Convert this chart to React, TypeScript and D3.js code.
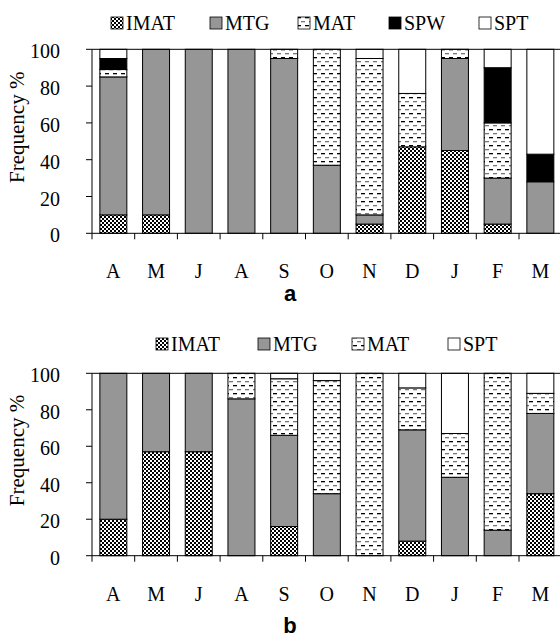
import React from "react";
import * as d3 from "d3";

// ---------- data ----------
const categories = ["A", "M", "J", "A", "S", "O", "N", "D", "J", "F", "M"];
const yTicks = [0, 20, 40, 60, 80, 100];

// panel a
const imatA = [10, 10, 0, 0, 0, 0, 5, 47, 45, 5, 0];
const mtgA = [75, 90, 100, 100, 95, 37, 5, 0, 50, 25, 28];
const matA = [4, 0, 0, 0, 5, 63, 85, 29, 5, 30, 0];
const spwA = [6, 0, 0, 0, 0, 0, 0, 0, 0, 30, 15];
const sptA = [5, 0, 0, 0, 0, 0, 5, 24, 0, 10, 57];

// panel b
const imatB = [20, 57, 57, 0, 16, 0, 0, 8, 0, 0, 34];
const mtgB = [80, 43, 43, 86, 50, 34, 0, 61, 43, 14, 44];
const matB = [0, 0, 0, 14, 31, 62, 100, 23, 24, 86, 11];
const sptB = [0, 0, 0, 0, 3, 4, 0, 8, 33, 0, 11];

const keysA = ["IMAT", "MTG", "MAT", "SPW", "SPT"];
const keysB = ["IMAT", "MTG", "MAT", "SPT"];

// ---------- styles ----------
const FILL: Record<string, string> = {
  IMAT: "url(#pImat)",
  MTG: "#969696",
  MAT: "url(#pMat)",
  SPW: "#000000",
  SPT: "#ffffff",
};
const SERIF = "'Liberation Serif', 'Times New Roman', serif";
const SANS = "'Liberation Sans', Arial, sans-serif";

type PanelProps = {
  keys: string[];
  series: Record<string, number[]>;
  top: number;
  bottom: number;
  legendX: number[];
  legendY: number;
  caption: string;
  captionY: number;
};

const X0 = 92;
const X1 = 561.7;

function Panel({ keys, series, top, bottom, legendX, legendY, caption, captionY }: PanelProps) {
  const idx = categories.map((_, i) => String(i));
  const x = d3.scaleBand<string>().domain(idx).range([X0, X1]).paddingInner(0.368).paddingOuter(0.184);
  const y = d3.scaleLinear().domain([0, 100]).range([bottom, top]);
  const rows = categories.map((_, i) => {
    const r: Record<string, number> = {};
    keys.forEach((k) => (r[k] = series[k][i]));
    return r;
  });
  const stacked = d3.stack<Record<string, number>>().keys(keys)(rows);
  const step = x.step();
  const boundaries = d3.range(categories.length + 1).map((i) => X0 + i * step);

  return (
    <g>
      {/* legend */}
      {keys.map((k, i) => (
        <g key={k}>
          <rect x={legendX[i]} y={legendY - 13} width={12} height={12} fill={FILL[k]} stroke="#000" strokeWidth={0.8} />
          <text x={legendX[i] + 15} y={legendY} fontFamily={SERIF} fontSize={20} fill="#000">
            {k}
          </text>
        </g>
      ))}
      {/* bars */}
      {stacked.map((s) => (
        <g key={s.key}>
          {s.map((d, i) =>
            d[1] - d[0] > 0 ? (
              <rect
                key={i}
                x={x(String(i))}
                y={y(d[1])}
                width={x.bandwidth()}
                height={y(d[0]) - y(d[1])}
                fill={FILL[s.key]}
                stroke="#000"
                strokeWidth={1}
              />
            ) : null
          )}
        </g>
      ))}
      {/* plot frame */}
      <line x1={X0} x2={X1} y1={top} y2={top} stroke="#000" strokeWidth={1} />
      <line x1={X0} x2={X1} y1={bottom} y2={bottom} stroke="#000" strokeWidth={1} />
      <line x1={X0} x2={X0} y1={top} y2={bottom} stroke="#000" strokeWidth={1} />
      {/* y ticks */}
      {yTicks.map((t) => (
        <g key={t}>
          <line x1={X0 - 6} x2={X0} y1={y(t)} y2={y(t)} stroke="#000" strokeWidth={1} />
          <text x={60} y={y(t) + 9} textAnchor="end" fontFamily={SERIF} fontSize={20} fill="#000">
            {t}
          </text>
        </g>
      ))}
      {/* x ticks */}
      {boundaries.map((bx, i) => (
        <line key={i} x1={bx} x2={bx} y1={bottom} y2={bottom + 6} stroke="#000" strokeWidth={1} />
      ))}
      {categories.map((c, i) => (
        <text
          key={i}
          x={(x(String(i)) as number) + x.bandwidth() / 2}
          y={bottom + 45}
          textAnchor="middle"
          fontFamily={SERIF}
          fontSize={20}
          fill="#000"
        >
          {c}
        </text>
      ))}
      {/* y label */}
      <text
        transform={`translate(24, ${(top + bottom) / 2 - 14}) rotate(-90)`}
        textAnchor="middle"
        fontFamily={SERIF}
        fontSize={21}
        fill="#000"
      >
        Frequency %
      </text>
      <text x={290} y={captionY} textAnchor="middle" fontFamily={SANS} fontWeight="bold" fontSize={22} fill="#000">
        {caption}
      </text>
    </g>
  );
}

export default function App() {
  return (
    <svg
      width={560}
      height={644}
      style={{ position: "absolute", left: 0, top: 0, background: "#fff" }}
    >
      <defs>
        <pattern id="pImat" width={4} height={4} patternUnits="userSpaceOnUse">
          <rect width={4} height={4} fill="#fff" />
          <rect x={0} y={0} width={2} height={2} fill="#000" />
          <rect x={2} y={2} width={2} height={2} fill="#000" />
        </pattern>
        <pattern id="pMat" width={8} height={8} patternUnits="userSpaceOnUse">
          <rect width={8} height={8} fill="#fff" />
          <rect x={1} y={1} width={4} height={1.3} fill="#000" />
          <rect x={5} y={5} width={4} height={1.3} fill="#777" />
          <rect x={-3} y={5} width={4} height={1.3} fill="#777" />
        </pattern>
      </defs>
      <rect width={560} height={644} fill="#fff" />
      <Panel
        keys={keysA}
        series={{ IMAT: imatA, MTG: mtgA, MAT: matA, SPW: spwA, SPT: sptA }}
        top={49.3}
        bottom={233.3}
        legendX={[111, 210, 298, 389, 479]}
        legendY={30}
        caption="a"
        captionY={301}
      />
      <Panel
        keys={keysB}
        series={{ IMAT: imatB, MTG: mtgB, MAT: matB, SPT: sptB }}
        top={373.3}
        bottom={555.7}
        legendX={[156, 258, 352, 448]}
        legendY={351}
        caption="b"
        captionY={633}
      />
    </svg>
  );
}
